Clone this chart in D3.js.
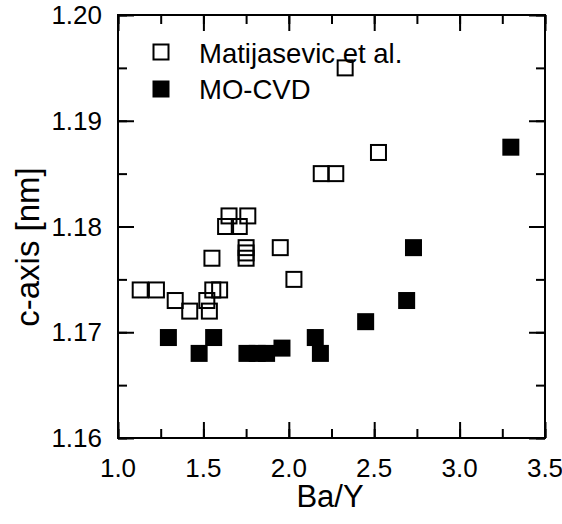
<!DOCTYPE html>
<html>
<head>
<meta charset="utf-8">
<script src="https://cdn.jsdelivr.net/npm/d3@7"></script>
<style>
  body { margin: 0; background: #fff; }
  text { font-family: "Liberation Sans", Arial, sans-serif; fill: #000; }
</style>
</head>
<body>
<svg id="chart" width="562" height="524"></svg>
<script>
// --- DATA ---
const matijasevicX = [1.13, 1.225, 1.335, 1.42, 1.52, 1.535, 1.555, 1.595, 1.55,
  1.75, 1.75, 1.75, 1.95, 2.03, 1.65, 1.76, 1.63, 1.71, 2.19, 2.275, 2.525, 2.33];
const matijasevicY = [1.174, 1.174, 1.173, 1.172, 1.173, 1.172, 1.174, 1.174, 1.177,
  1.178, 1.1775, 1.177, 1.178, 1.175, 1.181, 1.181, 1.180, 1.180, 1.185, 1.185, 1.187, 1.195];
const mocvdX = [1.295, 1.475, 1.56, 1.755, 1.815, 1.87, 1.96, 2.155, 2.185, 2.45, 2.69, 2.73, 3.30];
const mocvdY = [1.1695, 1.168, 1.1695, 1.168, 1.168, 1.168, 1.1685, 1.1695, 1.168, 1.171, 1.173, 1.178, 1.1875];
const xTicks = [1.0, 1.5, 2.0, 2.5, 3.0, 3.5];
const yTicks = [1.16, 1.17, 1.18, 1.19, 1.20];
const legendLabels = ["Matijasevic et al.", "MO-CVD"];

// --- LAYOUT ---
const svg = d3.select("#chart");
const m = { left: 118, right: 545, top: 15, bottom: 438 };
const x = d3.scaleLinear().domain([1.0, 3.5]).range([m.left, m.right]);
const y = d3.scaleLinear().domain([1.16, 1.20]).range([m.bottom, m.top]);
const S = 17; // marker size

const xMinor = d3.range(1.0, 3.5001, 0.25);
const yMinor = d3.range(1.16, 1.20001, 0.005);

// --- AXES (inward ticks on all four sides) ---
function tickAxis(axisFn, scale, values, size, tr) {
  const g = svg.append("g").attr("transform", tr)
    .call(axisFn(scale).tickValues(values).tickSize(size).tickFormat(""));
  g.select(".domain").remove();
  g.selectAll("line").attr("stroke", "#000").attr("stroke-width", 2);
}
tickAxis(d3.axisTop, x, xMinor, 9, `translate(0,${m.bottom})`);
tickAxis(d3.axisTop, x, xTicks, 16, `translate(0,${m.bottom})`);
tickAxis(d3.axisBottom, x, xMinor, 9, `translate(0,${m.top})`);
tickAxis(d3.axisBottom, x, xTicks, 16, `translate(0,${m.top})`);
tickAxis(d3.axisRight, y, yMinor, 9, `translate(${m.left},0)`);
tickAxis(d3.axisRight, y, yTicks, 16, `translate(${m.left},0)`);
tickAxis(d3.axisLeft, y, yMinor, 9, `translate(${m.right},0)`);
tickAxis(d3.axisLeft, y, yTicks, 16, `translate(${m.right},0)`);

svg.append("rect")
  .attr("x", m.left).attr("y", m.top)
  .attr("width", m.right - m.left).attr("height", m.bottom - m.top)
  .attr("fill", "none").attr("stroke", "#000").attr("stroke-width", 2);

// tick labels
svg.append("g").selectAll("text").data(xTicks).join("text")
  .attr("x", d => x(d)).attr("y", 477)
  .attr("text-anchor", "middle").style("font-size", "26px")
  .text(d => d3.format(".1f")(d));
svg.append("g").selectAll("text").data(yTicks).join("text")
  .attr("x", 102).attr("y", d => y(d) + 9)
  .attr("text-anchor", "end").style("font-size", "26px")
  .text(d => d3.format(".2f")(d));

// axis titles
svg.append("text").attr("x", 330).attr("y", 507)
  .attr("text-anchor", "middle").style("font-size", "31px").text("Ba/Y");
svg.append("text").attr("transform", "translate(39,247) rotate(-90)")
  .attr("text-anchor", "middle").style("font-size", "33px").text("c-axis [nm]");

// --- POINTS ---
const open = d3.zip(matijasevicX, matijasevicY);
const filled = d3.zip(mocvdX, mocvdY);

svg.append("g").selectAll("rect").data(open).join("rect")
  .attr("x", d => x(d[0]) - S / 2 + 1).attr("y", d => y(d[1]) - S / 2 + 1)
  .attr("width", S - 2).attr("height", S - 2)
  .attr("fill", "none").attr("stroke", "#000").attr("stroke-width", 2);

svg.append("g").selectAll("rect").data(filled).join("rect")
  .attr("x", d => x(d[0]) - S / 2).attr("y", d => y(d[1]) - S / 2)
  .attr("width", S).attr("height", S).attr("fill", "#000");

// --- LEGEND ---
const leg = svg.append("g");
leg.append("rect").attr("x", 161 - S / 2 + 1).attr("y", 52 - S / 2 + 1)
  .attr("width", S - 2).attr("height", S - 2)
  .attr("fill", "none").attr("stroke", "#000").attr("stroke-width", 2);
leg.append("rect").attr("x", 161 - S / 2).attr("y", 89 - S / 2)
  .attr("width", S).attr("height", S).attr("fill", "#000");
leg.append("text").attr("x", 199).attr("y", 63).style("font-size", "27.5px").text(legendLabels[0]);
leg.append("text").attr("x", 199).attr("y", 99).style("font-size", "27.5px").text(legendLabels[1]);
</script>
</body>
</html>
